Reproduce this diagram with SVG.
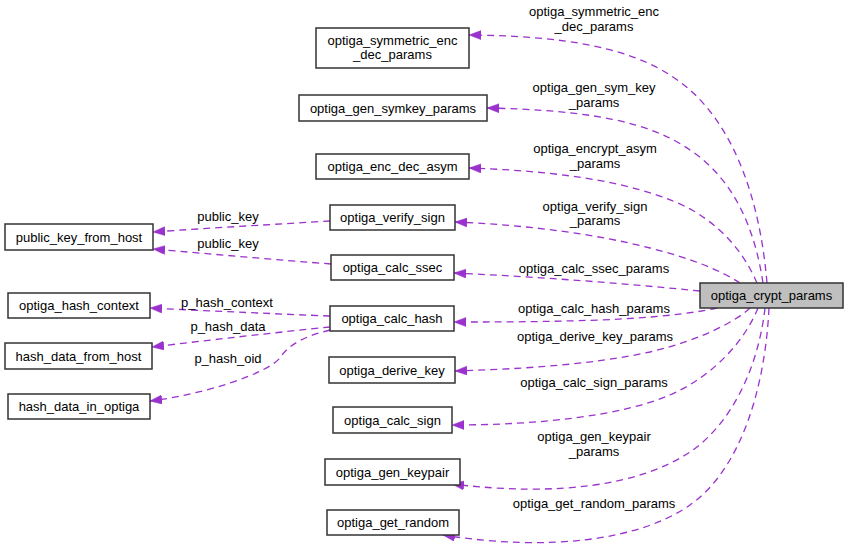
<svg xmlns="http://www.w3.org/2000/svg" width="848" height="552" viewBox="0 0 848 552">
<style>
  .box { fill: #ffffff; stroke: #333333; stroke-width: 1.5; }
  .hl { fill: #bfbfbf; stroke: #333333; stroke-width: 1.5; }
  text { font-family: "Liberation Sans", Arial, sans-serif; font-size: 13px; fill: #000000; text-anchor: middle; }
  .edge { fill: none; stroke: #9a32cd; stroke-width: 1.3; stroke-dasharray: 7,5; marker-end: url(#arr); }
</style>
<defs>
  <marker id="arr" markerUnits="userSpaceOnUse" markerWidth="13" markerHeight="10" refX="12" refY="4.5" orient="auto">
    <path d="M0,0 L12,4.5 L0,9 Z" fill="#9a32cd" stroke="#9a32cd" stroke-width="0.5"/>
  </marker>
</defs>
<rect width="848" height="552" fill="#ffffff"/>

<g id="connectors">
  <path class="edge" d="M767,283 C760,200 735,130 690,90 C650,55 590,36 469,35"/>
  <path class="edge" d="M763,283 C755,230 735,180 690,150 C650,122 590,110 487,108"/>
  <path class="edge" d="M757,283 C748,262 730,232 692,210 C655,190 590,172 469,168"/>
  <path class="edge" d="M740,283 C720,270 690,258 650,248 C600,235 530,225 455,222"/>
  <path class="edge" d="M700,291 C620,283 540,277 454,273"/>
  <path class="edge" d="M717,308 C690,314 650,318 600,320 C540,322 500,322 454,322"/>
  <path class="edge" d="M750,308 C735,322 700,340 650,352 C590,365 520,369 455,371"/>
  <path class="edge" d="M758,308 C745,340 715,375 670,395 C620,416 540,425 452,425"/>
  <path class="edge" d="M765,308 C758,370 730,425 690,452 C640,485 560,497 452,484"/>
  <path class="edge" d="M769,308 C765,390 740,470 690,505 C640,540 550,552 443,535"/>
  <path class="edge" d="M330,221 C280,224 210,228 153,232"/>
  <path class="edge" d="M331,264 C280,260 210,254 153,249"/>
  <path class="edge" d="M330,316 C280,314 210,311 150,308"/>
  <path class="edge" d="M330,327 C280,332 210,340 152,347"/>
  <path class="edge" d="M330,330 C310,335 290,342 280,358 C265,375 200,395 150,401"/>

  <text x="594" y="16">optiga_symmetric_enc</text>
  <text x="594" y="31">_dec_params</text>
  <text x="594" y="92">optiga_gen_sym_key</text>
  <text x="594" y="107">_params</text>
  <text x="595" y="153">optiga_encrypt_asym</text>
  <text x="595" y="168">_params</text>
  <text x="595" y="211">optiga_verify_sign</text>
  <text x="595" y="225">_params</text>
  <text x="594" y="273">optiga_calc_ssec_params</text>
  <text x="594" y="313">optiga_calc_hash_params</text>
  <text x="595" y="341">optiga_derive_key_params</text>
  <text x="594" y="387">optiga_calc_sign_params</text>
  <text x="594" y="441">optiga_gen_keypair</text>
  <text x="594" y="456">_params</text>
  <text x="594" y="508">optiga_get_random_params</text>
  <text x="228" y="221">public_key</text>
  <text x="228" y="248">public_key</text>
  <text x="227" y="307">p_hash_context</text>
  <text x="228" y="331">p_hash_data</text>
  <text x="228" y="363">p_hash_oid</text>
</g>

<g id="optiga_crypt_params"><rect class="hl" x="700" y="283" width="143" height="25"/><text x="771.5" y="300">optiga_crypt_params</text></g>
<g id="optiga_symmetric_enc_dec_params"><rect class="box" x="316" y="28" width="153" height="40"/><text x="392.5" y="45">optiga_symmetric_enc</text><text x="392.5" y="59">_dec_params</text></g>
<g id="optiga_gen_symkey_params"><rect class="box" x="299" y="95" width="188" height="26"/><text x="393" y="112.5">optiga_gen_symkey_params</text></g>
<g id="optiga_enc_dec_asym"><rect class="box" x="316" y="154" width="153" height="25"/><text x="392.5" y="171">optiga_enc_dec_asym</text></g>
<g id="optiga_verify_sign"><rect class="box" x="330" y="205" width="125" height="25"/><text x="392.5" y="222">optiga_verify_sign</text></g>
<g id="public_key_from_host"><rect class="box" x="5" y="224" width="148" height="26"/><text x="79" y="241.5">public_key_from_host</text></g>
<g id="optiga_calc_ssec"><rect class="box" x="331" y="255" width="123" height="25"/><text x="392.5" y="272">optiga_calc_ssec</text></g>
<g id="optiga_hash_context"><rect class="box" x="8" y="293" width="142" height="25"/><text x="79" y="310">optiga_hash_context</text></g>
<g id="optiga_calc_hash"><rect class="box" x="330" y="306" width="124" height="25"/><text x="392" y="323">optiga_calc_hash</text></g>
<g id="hash_data_from_host"><rect class="box" x="5" y="343" width="147" height="26"/><text x="78.5" y="360.5">hash_data_from_host</text></g>
<g id="optiga_derive_key"><rect class="box" x="329" y="357" width="126" height="26"/><text x="392" y="374.5">optiga_derive_key</text></g>
<g id="hash_data_in_optiga"><rect class="box" x="8" y="394" width="142" height="25"/><text x="79" y="411">hash_data_in_optiga</text></g>
<g id="optiga_calc_sign"><rect class="box" x="333" y="407" width="119" height="26"/><text x="392.5" y="424.5">optiga_calc_sign</text></g>
<g id="optiga_gen_keypair"><rect class="box" x="325" y="459" width="135" height="26"/><text x="392.5" y="476.5">optiga_gen_keypair</text></g>
<g id="optiga_get_random"><rect class="box" x="327" y="510" width="132" height="25"/><text x="393" y="527">optiga_get_random</text></g>
</svg>
